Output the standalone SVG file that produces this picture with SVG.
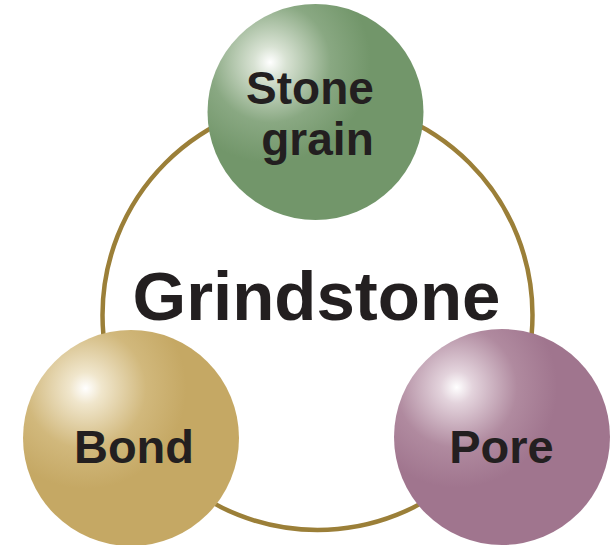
<svg xmlns="http://www.w3.org/2000/svg" width="614" height="545" viewBox="0 0 614 545">
<style>
.lbl{font-family:"Liberation Sans",Arial,Helvetica,sans-serif;font-weight:bold;fill:#231f20;text-anchor:middle}
.ring{fill:none;stroke:#9b7f38;stroke-width:4.5}
</style>
<defs>
<radialGradient id="gGreen" cx="0.29" cy="0.27" r="0.62" fx="0.29" fy="0.27">
<stop offset="0" stop-color="#ffffff"/>
<stop offset="0.12" stop-color="#d8e2d3"/>
<stop offset="0.45" stop-color="#89a882"/>
<stop offset="0.75" stop-color="#72966a"/>
<stop offset="1" stop-color="#72966a"/>
</radialGradient>
<radialGradient id="gGold" cx="0.29" cy="0.27" r="0.62" fx="0.29" fy="0.27">
<stop offset="0" stop-color="#ffffff"/>
<stop offset="0.12" stop-color="#f0e6cc"/>
<stop offset="0.45" stop-color="#d1b87c"/>
<stop offset="0.75" stop-color="#c5a864"/>
<stop offset="1" stop-color="#c5a864"/>
</radialGradient>
<radialGradient id="gPink" cx="0.29" cy="0.27" r="0.62" fx="0.29" fy="0.27">
<stop offset="0" stop-color="#ffffff"/>
<stop offset="0.12" stop-color="#e3d3dc"/>
<stop offset="0.45" stop-color="#b08a9f"/>
<stop offset="0.75" stop-color="#a0758e"/>
<stop offset="1" stop-color="#a0758e"/>
</radialGradient>
</defs>
<rect width="614" height="545" fill="#ffffff"/>
<g id="connectors">
<circle class="ring" cx="317.5" cy="315" r="215"/>
</g>
<g id="grindstone">
<text class="lbl" x="316.5" y="320" font-size="69">Grindstone</text>
</g>
<g id="stone-grain">
<circle cx="315.5" cy="112" r="108" fill="url(#gGreen)"/>
<text class="lbl" x="310" y="104" font-size="46">Stone</text>
<text class="lbl" x="317.5" y="155" font-size="46">grain</text>
</g>
<g id="bond">
<circle cx="131" cy="438" r="108" fill="url(#gGold)"/>
<text class="lbl" x="134" y="463" font-size="47">Bond</text>
</g>
<g id="pore">
<circle cx="502" cy="437" r="108" fill="url(#gPink)"/>
<text class="lbl" x="501.5" y="463" font-size="47">Pore</text>
</g>
</svg>
